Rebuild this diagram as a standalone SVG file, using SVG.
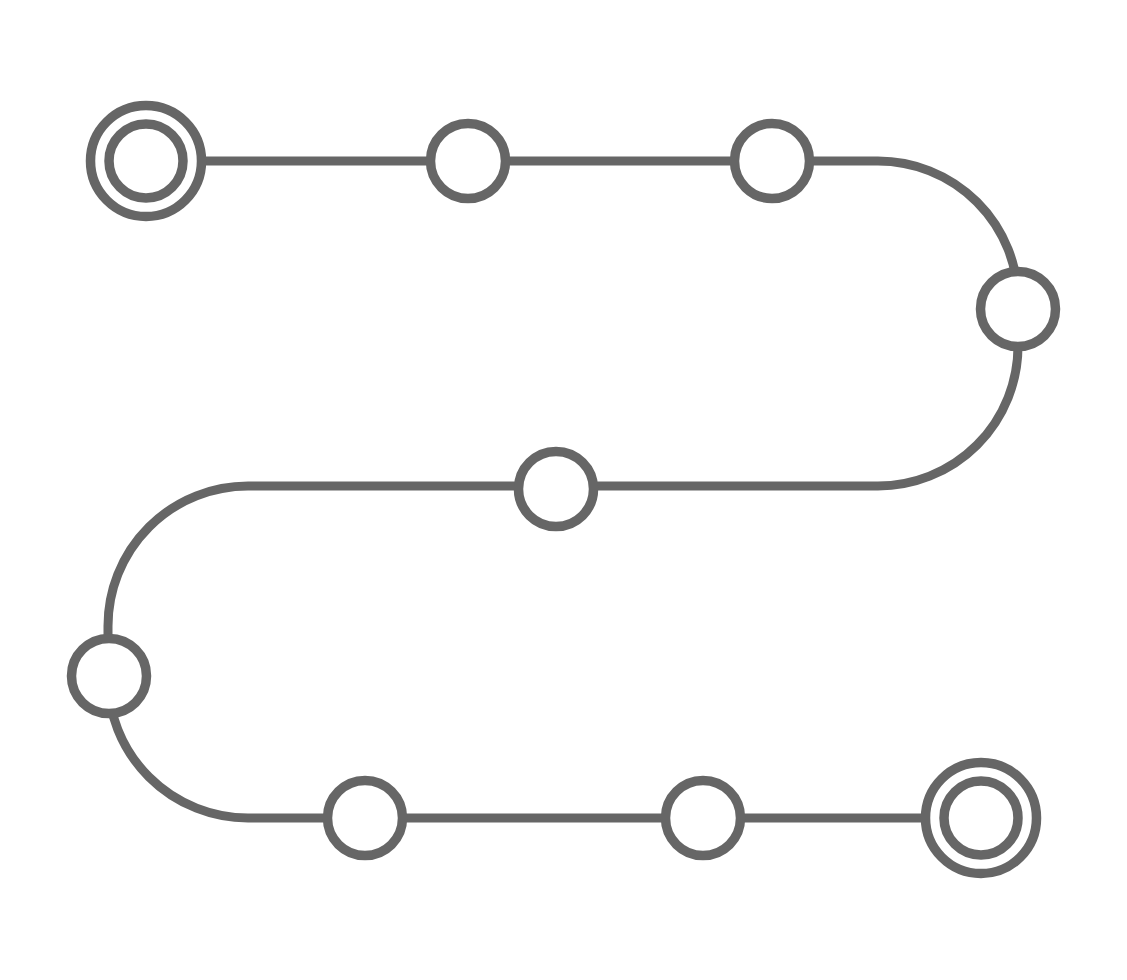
<svg xmlns="http://www.w3.org/2000/svg" width="1127" height="980" viewBox="0 0 1127 980">
<style>
.track{fill:none;stroke:#666666;stroke-width:9}
.node circle{fill:#ffffff;stroke:#666666;stroke-width:9.5}
</style>
<rect width="1127" height="980" fill="#ffffff"/>
<g id="connectors">
<path class="track" d="M146,161 H878 A140,140 0 0 1 1018,301 V346 A140,140 0 0 1 878,486 H248 A140,140 0 0 0 108,626 V678 A140,140 0 0 0 248,818 H981"/>
</g>
<g id="start" class="node"><circle cx="146" cy="161" r="55.5"/><circle cx="146" cy="161" r="37"/></g>
<g id="n1" class="node"><circle cx="468" cy="161" r="37.5"/></g>
<g id="n2" class="node"><circle cx="772" cy="161" r="37.5"/></g>
<g id="n3" class="node"><circle cx="1018" cy="309" r="37.5"/></g>
<g id="n4" class="node"><circle cx="556" cy="489" r="37.5"/></g>
<g id="n5" class="node"><circle cx="109" cy="676" r="37.5"/></g>
<g id="n6" class="node"><circle cx="365" cy="818" r="37.5"/></g>
<g id="n7" class="node"><circle cx="703" cy="818" r="37.5"/></g>
<g id="end" class="node"><circle cx="981" cy="818" r="55.5"/><circle cx="981" cy="818" r="37"/></g>
</svg>
